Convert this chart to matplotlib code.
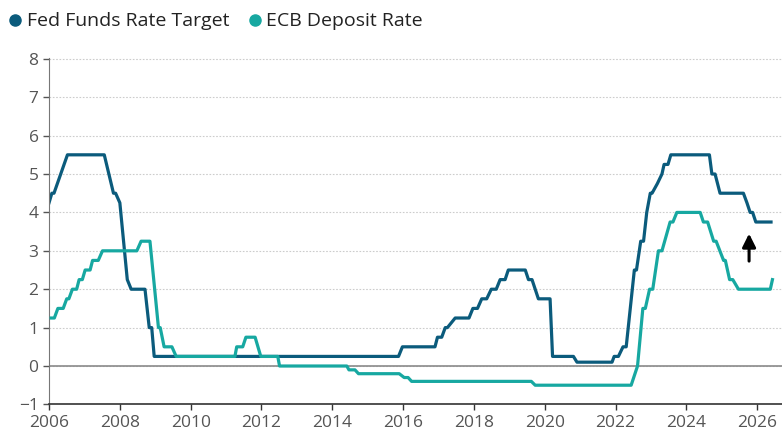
import matplotlib
matplotlib.use("Agg")
import matplotlib.pyplot as plt
from matplotlib.lines import Line2D

# Fed funds target (line vertices)
fed_x = [2006.0, 2006.08, 2006.14, 2006.52, 2007.56, 2007.82, 2007.88, 2008.0,
         2008.21, 2008.32, 2008.71, 2008.83, 2008.9, 2008.97,
         2015.87, 2015.98, 2016.9, 2016.97, 2017.09, 2017.19, 2017.25, 2017.47,
         2017.86, 2017.97, 2018.1, 2018.22, 2018.36, 2018.49, 2018.63, 2018.74,
         2018.88, 2018.97, 2019.45, 2019.54, 2019.64, 2019.82, 2020.15, 2020.22,
         2020.81, 2020.91, 2021.9, 2021.96, 2022.08, 2022.21, 2022.3, 2022.53,
         2022.59, 2022.71, 2022.79, 2022.88, 2022.98, 2023.03, 2023.18, 2023.31,
         2023.37, 2023.48, 2023.56, 2024.65, 2024.72, 2024.81, 2024.95, 2025.61,
         2025.71, 2025.8, 2025.87, 2025.96, 2026.39]
fed_y = [4.25, 4.5, 4.5, 5.5, 5.5, 4.5, 4.5, 4.25,
         2.25, 2.0, 2.0, 1.0, 1.0, 0.25,
         0.25, 0.5, 0.5, 0.75, 0.75, 1.0, 1.0, 1.25,
         1.25, 1.5, 1.5, 1.75, 1.75, 2.0, 2.0, 2.25,
         2.25, 2.5, 2.5, 2.25, 2.25, 1.75, 1.75, 0.25,
         0.25, 0.1, 0.1, 0.25, 0.25, 0.5, 0.5, 2.5,
         2.5, 3.25, 3.25, 4.0, 4.5, 4.5, 4.75, 5.0,
         5.25, 5.25, 5.5, 5.5, 5.0, 5.0, 4.5, 4.5,
         4.25, 4.0, 4.0, 3.75, 3.75]

# ECB deposit rate
ecb_x = [2006.06, 2006.15, 2006.25, 2006.4, 2006.5, 2006.56, 2006.66, 2006.78,
         2006.85, 2006.94, 2007.02, 2007.16, 2007.23, 2007.39, 2007.51, 2008.48,
         2008.6, 2008.85, 2009.09, 2009.14, 2009.25, 2009.47, 2009.59,
         2011.25, 2011.3, 2011.47, 2011.56, 2011.82, 2011.98, 2012.46, 2012.51,
         2014.41, 2014.47, 2014.64, 2014.74, 2015.89, 2016.03, 2016.14, 2016.24,
         2019.62, 2019.73, 2022.44, 2022.62, 2022.77, 2022.84, 2022.96, 2023.05,
         2023.21, 2023.31, 2023.54, 2023.62, 2023.73, 2024.39, 2024.48, 2024.6,
         2024.77, 2024.84, 2025.05, 2025.1, 2025.22, 2025.31, 2025.47, 2026.37,
         2026.43]
ecb_y = [1.25, 1.25, 1.5, 1.5, 1.75, 1.75, 2.0, 2.0,
         2.25, 2.25, 2.5, 2.5, 2.75, 2.75, 3.0, 3.0,
         3.25, 3.25, 1.0, 1.0, 0.5, 0.5, 0.25,
         0.25, 0.5, 0.5, 0.75, 0.75, 0.25, 0.25, 0.0,
         0.0, -0.1, -0.1, -0.2, -0.2, -0.3, -0.3, -0.4,
         -0.4, -0.5, -0.5, 0.0, 1.5, 1.5, 2.0, 2.0,
         3.0, 3.0, 3.75, 3.75, 4.0, 4.0, 3.75, 3.75,
         3.25, 3.25, 2.75, 2.75, 2.25, 2.25, 2.0, 2.0,
         2.25]

year_ticks = [2006, 2008, 2010, 2012, 2014, 2016, 2018, 2020, 2022, 2024, 2026]
rate_ticks = [-1, 0, 1, 2, 3, 4, 5, 6, 7, 8]

fed_color = "#0b5b7c"
ecb_color = "#17a8a1"
plt.rcParams['font.family'] = ['Open Sans', 'DejaVu Sans']

fig = plt.figure(figsize=(7.82, 4.30), dpi=100)
ax = fig.add_axes([0.0627, 0.0595, 0.9373, 0.8055])

ax.axhline(0, color="#8a8a8a", lw=1.2, zorder=1)
ax.plot(ecb_x, ecb_y, color=ecb_color, lw=2.3, zorder=3, solid_joinstyle="round")
ax.plot(fed_x, fed_y, color=fed_color, lw=2.3, zorder=2, solid_joinstyle="round")

ax.annotate("", xy=(2025.77, 3.52), xytext=(2025.77, 2.66),
            arrowprops=dict(arrowstyle="-|>,head_width=0.4,head_length=0.8",
                            color="black", lw=2.2))

ax.set_xlim(2006, 2026.7)
ax.set_ylim(-1, 8.02)
ax.set_xticks(year_ticks)
ax.set_yticks(rate_ticks)
ax.set_xticklabels([str(t) for t in year_ticks])
ax.set_yticklabels([str(t).replace("-", "\u2212") for t in rate_ticks])
ax.tick_params(axis="both", labelsize=12.5, colors="#555555", length=4, width=1)
ax.tick_params(axis="x", colors="#333333", labelcolor="#555555")
ax.grid(axis="y", linestyle=(0, (1.5, 1.5)), color="#cccccc", lw=0.8)
ax.set_axisbelow(True)
for s in ["top", "right"]:
    ax.spines[s].set_visible(False)
ax.spines["left"].set_color("#777777")
ax.spines["bottom"].set_color("#333333")
ax.spines["bottom"].set_linewidth(1.2)

handles = [Line2D([], [], marker="o", ls="", color=fed_color, markersize=8),
           Line2D([], [], marker="o", ls="", color=ecb_color, markersize=8)]
fig.legend(handles, ["Fed Funds Rate Target", "ECB Deposit Rate"], loc="upper left",
           bbox_to_anchor=(-0.018, 1.012), ncol=2, frameon=False, fontsize=14,
           handletextpad=0.0, columnspacing=0.7, handlelength=1.2,
           labelcolor="#222222")

fig.savefig("out.png", dpi=100)
